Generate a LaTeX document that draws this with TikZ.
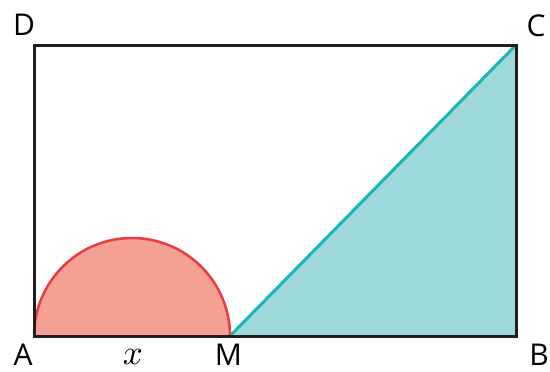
\documentclass[tikz,border=0pt]{standalone}
\usepackage{fontspec}
\setmainfont{Open Sans}
\begin{document}
\begin{tikzpicture}[x=1pt,y=-1pt,
  lbl/.style={inner sep=0pt,font=\fontsize{30}{33}\selectfont},
  edge/.style={draw=black!88,line width=3pt},
  semi/.style={fill=semifill,draw=semired,line width=2.5pt},
  tri/.style={fill=trifill}]
\definecolor{semifill}{HTML}{F4A193}
\definecolor{semired}{HTML}{E83B43}
\definecolor{trifill}{HTML}{9ED9D9}
\definecolor{tealline}{HTML}{1AB5B5}
\useasboundingbox (0,0) rectangle (550,372);
\coordinate (A) at (34,336);
\coordinate (B) at (516,336);
\coordinate (C) at (516,45);
\coordinate (D) at (34,45);
\coordinate (M) at (230,336);
\fill[tri] (M) -- (B) -- (C) -- cycle;
\draw[tealline,line width=3pt] (M) -- (C);
\draw[semi] (A) arc[start angle=180,end angle=360,radius=98];
\draw[edge,line join=miter] (A) -- (B) -- (C) -- (D) -- cycle;
\node[lbl] (lA) at (23,355) {A};
\node[lbl] (lM) at (228.5,355) {M};
\node[lbl] (lB) at (539,355) {B};
\node[lbl] (lD) at (24,25) {D};
\node[lbl] (lC) at (536,26) {C};
\node[inner sep=0pt] (lx) at (133,357) {\scalebox{3.5}{$x$}};
\end{tikzpicture}
\end{document}
